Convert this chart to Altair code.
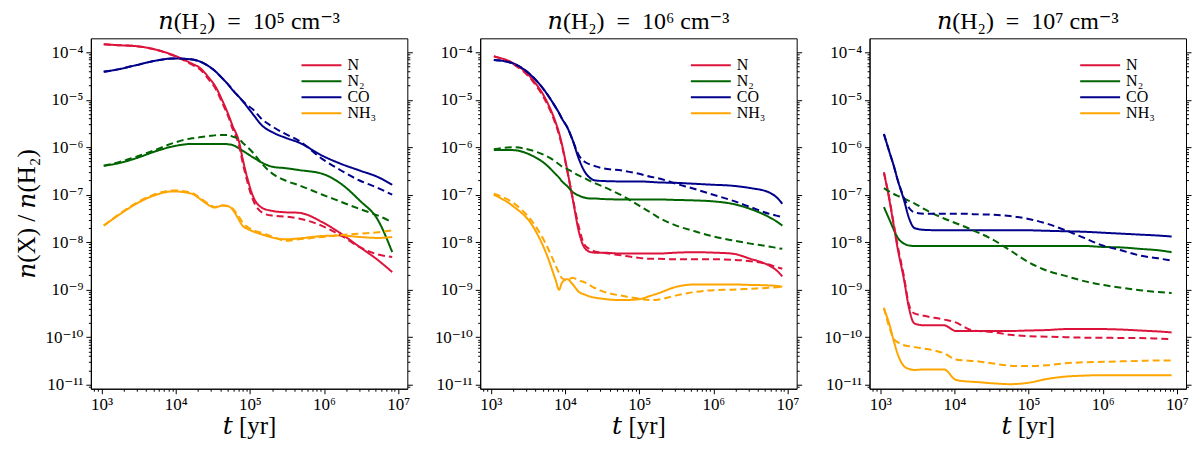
import altair as alt
import pandas as pd

SPECIES = ['N', 'N₂', 'CO', 'NH₃']
COLORS = ['crimson', 'darkgreen', 'darkblue', 'orange']
RUNS = ['solid', 'dashed']
DENSITIES = ['10⁵', '10⁶', '10⁷']

# values as log10(t / yr) and log10(abundance)
P1_LOG_T = [3.03, 3.22, 3.47, 3.72, 3.97, 4.22, 4.32, 4.47, 4.52, 4.63, 4.72, 4.76, 4.86,
            4.90, 4.97, 5.04, 5.17, 5.30, 5.48, 5.66, 5.98, 6.23, 6.48, 6.73, 6.92]
P1_N = [-3.83, -3.85, -3.87, -3.94, -4.06, -4.24, -4.32, -4.58, -4.68, -5.02, -5.35, -5.52, -5.92,
        -6.22, -6.67, -7.02, -7.28, -7.34, -7.37, -7.38, -7.58, -7.82, -8.10, -8.38, -8.63]
P1_N_D = [-3.83, -3.85, -3.87, -3.94, -4.07, -4.26, -4.35, -4.62, -4.72, -5.07, -5.40, -5.58, -6.00,
          -6.30, -6.75, -7.10, -7.38, -7.44, -7.46, -7.50, -7.66, -7.86, -8.10, -8.26, -8.31]
P1_CO = [-4.41, -4.36, -4.27, -4.18, -4.13, -4.15, -4.19, -4.32, -4.38, -4.55, -4.70, -4.78, -4.95,
         -5.02, -5.16, -5.30, -5.55, -5.68, -5.80, -5.90, -6.18, -6.35, -6.49, -6.63, -6.79]
P1_CO_D = [-4.41, -4.36, -4.27, -4.18, -4.13, -4.15, -4.19, -4.32, -4.38, -4.55, -4.70, -4.78, -4.95,
           -5.02, -5.12, -5.20, -5.42, -5.56, -5.72, -5.86, -6.25, -6.49, -6.70, -6.86, -7.00]
P1_N2 = [-6.39, -6.34, -6.23, -6.09, -5.98, -5.93, -5.93, -5.93, -5.93, -5.93, -5.94, -5.95, -6.03,
         -6.07, -6.14, -6.21, -6.33, -6.41, -6.44, -6.48, -6.56, -6.77, -7.12, -7.54, -8.21]
P1_N2_D = [-6.39, -6.32, -6.20, -6.06, -5.91, -5.81, -5.79, -5.76, -5.75, -5.74, -5.74, -5.77, -5.83,
           -5.90, -6.00, -6.11, -6.36, -6.55, -6.70, -6.80, -7.00, -7.15, -7.30, -7.44, -7.58]
P1_NH3 = [-7.65, -7.44, -7.19, -7.01, -6.93, -6.98, -7.08, -7.24, -7.27, -7.23, -7.25, -7.30, -7.55,
          -7.65, -7.72, -7.77, -7.84, -7.90, -7.94, -7.92, -7.87, -7.86, -7.89, -7.91, -7.89]
P1_NH3_D = [-7.65, -7.43, -7.17, -6.99, -6.91, -6.96, -7.06, -7.22, -7.26, -7.22, -7.24, -7.28, -7.48,
            -7.58, -7.68, -7.74, -7.81, -7.88, -7.97, -7.94, -7.89, -7.85, -7.82, -7.79, -7.75]

P2_LOG_T = [3.04, 3.29, 3.56, 3.74, 3.87, 3.92, 3.96, 4.03, 4.10, 4.19, 4.26, 4.35, 4.41,
            4.50, 4.77, 5.00, 5.15, 5.25, 5.50, 5.75, 6.00, 6.25, 6.50, 6.75, 6.85, 6.93]
P2_N = [-4.09, -4.22, -4.57, -4.99, -5.46, -5.70, -5.95, -6.48, -7.06, -7.80, -8.11, -8.21, -8.22,
        -8.22, -8.24, -8.24, -8.24, -8.24, -8.22, -8.21, -8.22, -8.24, -8.35, -8.49, -8.59, -8.72]
P2_N_D = [-4.08, -4.24, -4.60, -5.03, -5.50, -5.74, -5.98, -6.50, -7.04, -7.70, -8.05, -8.16, -8.20,
          -8.22, -8.28, -8.33, -8.35, -8.35, -8.36, -8.36, -8.36, -8.37, -8.40, -8.47, -8.52, -8.56]
P2_CO = [-4.16, -4.23, -4.51, -4.84, -5.15, -5.28, -5.40, -5.58, -5.84, -6.26, -6.50, -6.66, -6.70,
         -6.71, -6.72, -6.72, -6.73, -6.74, -6.75, -6.77, -6.79, -6.81, -6.86, -6.95, -7.05, -7.19]
P2_CO_D = [-4.16, -4.23, -4.51, -4.84, -5.15, -5.28, -5.40, -5.58, -5.84, -6.18, -6.30, -6.37, -6.40,
           -6.44, -6.49, -6.56, -6.62, -6.65, -6.77, -6.88, -7.00, -7.12, -7.26, -7.40, -7.44, -7.47]
P2_N2 = [-6.06, -6.06, -6.18, -6.36, -6.56, -6.64, -6.72, -6.82, -6.94, -7.02, -7.06, -7.08, -7.08,
         -7.09, -7.10, -7.10, -7.10, -7.10, -7.11, -7.12, -7.14, -7.19, -7.30, -7.47, -7.56, -7.65]
P2_N2_D = [-6.04, -6.00, -6.07, -6.18, -6.30, -6.36, -6.41, -6.46, -6.52, -6.60, -6.65, -6.72, -6.76,
           -6.82, -7.02, -7.23, -7.37, -7.47, -7.65, -7.77, -7.88, -7.96, -8.03, -8.09, -8.12, -8.14]
P2_NH3 = [-7.00, -7.23, -7.65, -8.21, -8.78, -9.00, -8.85, -8.78, -8.88, -9.05, -9.10, -9.15, -9.17,
          -9.19, -9.22, -9.20, -9.13, -9.08, -8.94, -8.89, -8.89, -8.89, -8.90, -8.91, -8.92, -8.94]
P2_NH3_D = [-6.98, -7.16, -7.57, -8.03, -8.48, -8.65, -8.76, -8.80, -8.75, -8.81, -8.84, -8.92, -8.97,
            -9.03, -9.13, -9.19, -9.22, -9.21, -9.12, -9.05, -9.01, -9.00, -8.98, -8.96, -8.95, -8.94]

P3_LOG_T = [3.05, 3.12, 3.19, 3.23, 3.32, 3.39, 3.46, 3.59, 3.86, 4.02, 4.15, 4.25,
            4.50, 4.75, 5.00, 5.25, 5.50, 5.75, 6.00, 6.25, 6.50, 6.75, 6.93]
P3_N = [-6.53, -7.08, -7.72, -8.09, -8.78, -9.40, -9.71, -9.75, -9.75, -9.87, -9.87, -9.87,
        -9.87, -9.87, -9.86, -9.85, -9.83, -9.83, -9.83, -9.84, -9.86, -9.88, -9.90]
P3_N_D = [-6.53, -7.05, -7.68, -8.03, -8.72, -9.33, -9.50, -9.55, -9.63, -9.69, -9.80, -9.86,
          -9.89, -9.95, -9.98, -9.99, -10.00, -10.01, -10.01, -10.02, -10.02, -10.03, -10.04]
P3_CO = [-5.72, -6.08, -6.43, -6.66, -7.11, -7.50, -7.70, -7.74, -7.75, -7.75, -7.75, -7.75,
         -7.75, -7.75, -7.75, -7.76, -7.77, -7.78, -7.80, -7.82, -7.84, -7.86, -7.88]
P3_CO_D = [-5.72, -6.08, -6.43, -6.66, -7.06, -7.28, -7.37, -7.40, -7.40, -7.40, -7.40, -7.41,
           -7.42, -7.45, -7.51, -7.61, -7.75, -7.91, -8.07, -8.17, -8.28, -8.34, -8.39]
P3_N2 = [-7.26, -7.51, -7.76, -7.89, -8.03, -8.07, -8.08, -8.08, -8.08, -8.08, -8.08, -8.08,
         -8.08, -8.08, -8.08, -8.08, -8.08, -8.08, -8.10, -8.11, -8.14, -8.17, -8.21]
P3_N2_D = [-6.86, -6.93, -6.99, -7.02, -7.08, -7.13, -7.18, -7.30, -7.50, -7.60, -7.68, -7.75,
           -7.93, -8.17, -8.42, -8.60, -8.71, -8.82, -8.90, -8.96, -9.01, -9.05, -9.07]
P3_NH3 = [-9.40, -9.71, -10.12, -10.33, -10.61, -10.67, -10.69, -10.68, -10.68, -10.90, -10.93, -10.94,
          -10.97, -10.99, -10.96, -10.88, -10.83, -10.81, -10.80, -10.80, -10.80, -10.80, -10.80]
P3_NH3_D = [-9.38, -9.78, -10.05, -10.10, -10.17, -10.19, -10.21, -10.24, -10.34, -10.47, -10.49, -10.50,
            -10.55, -10.60, -10.61, -10.59, -10.55, -10.53, -10.52, -10.51, -10.50, -10.49, -10.49]

PANELS = [
    (P1_LOG_T, [P1_N, P1_N2, P1_CO, P1_NH3], [P1_N_D, P1_N2_D, P1_CO_D, P1_NH3_D]),
    (P2_LOG_T, [P2_N, P2_N2, P2_CO, P2_NH3], [P2_N_D, P2_N2_D, P2_CO_D, P2_NH3_D]),
    (P3_LOG_T, [P3_N, P3_N2, P3_CO, P3_NH3], [P3_N_D, P3_N2_D, P3_CO_D, P3_NH3_D]),
]

X_MAJOR = [1e3, 1e4, 1e5, 1e6, 1e7]
Y_MAJOR = [1e-4, 1e-5, 1e-6, 1e-7, 1e-8, 1e-9, 1e-10, 1e-11]
X_MINOR = [800, 900] + [m * 10.0 ** e for e in range(3, 7) for m in range(2, 10)]
Y_MINOR = [9e-12] + [m * 10.0 ** e for e in range(-11, -4) for m in range(2, 10)]
X_DOMAIN = [718, 1.33e7]
Y_DOMAIN = [8.2e-12, 1.97e-4]

FONT = 'Liberation Serif, DejaVu Serif, serif'
SUP = str.maketrans('-0123456789', '⁻⁰¹²³⁴⁵⁶⁷⁸⁹')

EXP = 'round(log(datum.value)/LN10)'
IS_MAJOR = f'abs(log(datum.value)/LN10 - {EXP}) < 1e-6'


def power_labels(exps):
    expr = "''"
    for k in exps:
        expr = f"{EXP} == {k} ? '10{str(k).translate(SUP)}' : ({expr})"
    return f"{IS_MAJOR} ? ({expr}) : ''"


TICK_SIZE = {'condition': {'test': IS_MAJOR, 'value': 5}, 'value': 2.5}


def build_frame(log_t, solid, dashed):
    rows = []
    for run, group in zip(RUNS, [solid, dashed]):
        for sp, vals in zip(SPECIES, group):
            assert len(vals) == len(log_t)
            for lt, lv in zip(log_t, vals):
                rows.append({'t': 10 ** lt, 'ab': 10 ** lv, 'species': sp, 'run': run})
    return pd.DataFrame(rows)


def panel(i):
    df = build_frame(*PANELS[i])
    x_scale = alt.Scale(type='log', domain=X_DOMAIN, nice=False)
    y_scale = alt.Scale(type='log', domain=Y_DOMAIN, nice=False)

    lines = alt.Chart(df).mark_line(strokeWidth=2, interpolate='monotone', clip=True).encode(
        x=alt.X('t:Q', scale=x_scale, axis=alt.Axis(
            values=X_MAJOR + X_MINOR, labelExpr=power_labels(range(3, 8)), tickSize=TICK_SIZE,
            labelOverlap=False, labelFlush=False, labelPadding=3, titlePadding=1,
            title='𝑡 [yr]')),
        y=alt.Y('ab:Q', scale=y_scale, title='𝑛(X) / 𝑛(H₂)' if i == 0 else None, axis=alt.Axis(
            values=Y_MAJOR + Y_MINOR, labelExpr=power_labels(range(-11, -3)), tickSize=TICK_SIZE,
            labelOverlap=False, labelPadding=3, titlePadding=6)),
        color=alt.Color('species:N', sort=SPECIES, scale=alt.Scale(domain=SPECIES, range=COLORS),
                        legend=alt.Legend(orient='none', legendX=223, legendY=19, title=None,
                                          symbolType='M-10,0H10', symbolSize=16, symbolStrokeWidth=2,
                                          labelFontSize=16, labelFont=FONT, labelOffset=18,
                                          rowPadding=-1, padding=0)),
        strokeDash=alt.StrokeDash('run:N', scale=alt.Scale(domain=RUNS, range=[[1, 0], [7, 4]]),
                                  legend=None),
    )

    # ticks (no labels) mirrored on the right side of the frame
    right = alt.Chart(df).mark_line(opacity=0).encode(
        x=alt.X('t:Q', scale=x_scale),
        y=alt.Y('ab:Q', scale=y_scale, title=None, axis=alt.Axis(
            orient='right', values=Y_MAJOR + Y_MINOR, labels=False, tickSize=TICK_SIZE, domain=False)),
    )

    return alt.layer(lines, right).resolve_axis(y='independent').properties(
        width=317, height=351,
        title=alt.Title(f'𝑛(H₂)\u2002=\u200210{DENSITIES[i][2:]} cm⁻³', fontSize=24, font=FONT,
                        fontWeight='normal', offset=4, frame='group'),
    )


chart = alt.hconcat(panel(0), panel(1), panel(2), spacing=20).resolve_legend(
    color='independent'
).configure_view(
    stroke='black', strokeWidth=1
).configure_axis(
    labelFont=FONT, titleFont=FONT, labelFontSize=17, titleFontSize=25, titleFontWeight='normal',
    labelColor='black', titleColor='black', tickColor='black', domainColor='black',
    grid=False
).properties(
    padding={'left': 5, 'right': 0, 'top': 1, 'bottom': 0}
)

chart.save('out.html', embed_options={'renderer': 'svg', 'actions': False})
